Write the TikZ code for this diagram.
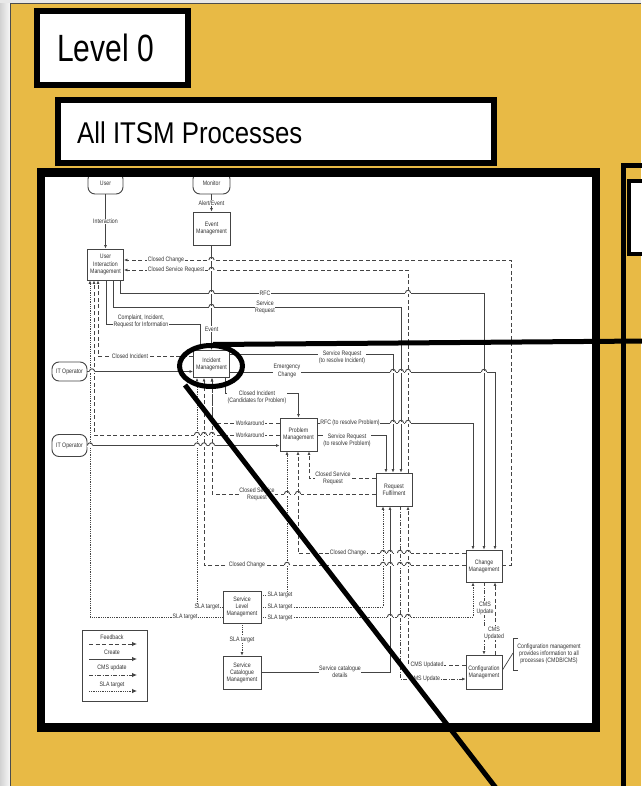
\documentclass[tikz,border=0pt]{standalone}
\usepackage{fontspec}
\setmainfont{Liberation Sans}
\newfontfamily\dg[FakeStretch=0.82]{Liberation Sans}
\usetikzlibrary{arrows.meta}
\definecolor{bgor}{RGB}{232,186,69}
\definecolor{ln}{RGB}{68,68,68}
\definecolor{tx}{RGB}{50,50,50}
\newcommand\myhop[3][cr]{\fill[white] (#2-2.6,#3-1) rectangle (#2+2.6,#3+1);
  \draw[#1,solid] (#2-2.6,#3) .. controls (#2-2.6,#3-3.6) and (#2+2.6,#3-3.6) .. (#2+2.6,#3);}
\begin{document}
\begin{tikzpicture}[x=1pt,y=-1pt,
  dfont/.style={font=\dg\fontsize{6.4}{7.1}\selectfont,text=tx},
  proc/.style={draw=ln,line width=0.9pt,fill=white,inner sep=0pt,align=center,dfont},
  term/.style={proc,rounded corners=7pt},
  lbl/.style={fill=white,inner sep=0.6pt,align=center,dfont},
  cr/.style={draw=ln,line width=0.9pt},
  fb/.style={cr,dash pattern=on 4pt off 2.5pt},
  cms/.style={cr,dash pattern=on 4pt off 1.5pt on 1pt off 1.5pt},
  sla/.style={cr,line width=0.8pt,dash pattern=on 0.8pt off 1pt},
  arr/.style={-{Latex[length=3.5pt,width=3pt]}},
  thick frame/.style={draw=black,line width=6pt}
]
\useasboundingbox (0,0) rectangle (641,786);
% background
\shade[left color=gray!35,right color=gray!6] (0,0) rectangle (10,786);
\fill[gray!18] (0,0) rectangle (641,3);
\fill[bgor] (10,3) rectangle (641,786);
\draw[black!70,line width=0.8pt] (10.4,786) -- (10.4,3.4) -- (641,3.4);

% Level 0
\draw[thick frame,fill=white] (37,11) rectangle (188,85);
\node[anchor=base west,inner sep=0pt] (lvl) at (57,62) {\scalebox{0.79}[1]{\fontsize{38}{40}\selectfont Level 0}};
% All ITSM
\draw[thick frame,fill=white] (58,100) rectangle (494,163);
\node[anchor=base west,inner sep=0pt] (all) at (77,144) {\scalebox{0.86}[1]{\fontsize{30}{32}\selectfont All ITSM Processes}};

% right panel
\draw[black,line width=5pt] (623,790) -- (623,165.5) -- (645,165.5);
\draw[black,line width=4pt,fill=white] (629,181) rectangle (650,254);

% big frame
\fill[white] (41,172.5) rectangle (596,727.5);

% processes
\node[term,minimum width=35pt,minimum height=22pt] (user) at (105.5,183) {User};
\node[term,minimum width=37pt,minimum height=22pt] (mon) at (211.5,183) {Monitor};
\node[proc,minimum width=37pt,minimum height=33pt] (evt) at (211.5,228.5) {Event\\Management};
\node[proc,minimum width=36pt,minimum height=31pt] (uim) at (105.5,264.5) {User\\Interaction\\Management};
\node[proc,minimum width=36pt,minimum height=27pt] (im) at (211.5,364) {Incident\\Management};
\node[term,minimum width=35pt,minimum height=19pt] (op1) at (69.5,371.5) {IT Operator};
\node[term,minimum width=35pt,minimum height=22pt] (op2) at (69.5,445.5) {IT Operator};
\node[proc,minimum width=37pt,minimum height=33pt] (pm) at (298.5,434.5) {Problem\\Management};
\node[proc,minimum width=36pt,minimum height=33pt] (rf) at (394,489.5) {Request\\Fulfilment};
\node[proc,minimum width=36pt,minimum height=32pt] (chg) at (484,566) {Change\\Management};
\node[proc,minimum width=38pt,minimum height=32pt] (slm) at (242,607) {Service\\Level\\Management};
\node[proc,minimum width=38pt,minimum height=33pt] (scm) at (242,672.5) {Service\\Catalogue\\Management};
\node[proc,minimum width=36pt,minimum height=34pt] (cfg) at (484,672) {Configuration\\Management};

% connectors
\draw[cr,arr] (user.south) -- (uim.north) node[lbl,midway] {Interaction};
\draw[cr,arr] (mon.south) -- (evt.north) node[lbl,midway] {Alert/Event};
\draw[cr,arr] (evt.south) -- (im.north) node[lbl,pos=0.8] {Event};
\draw[fb,arr] (chg.east |- 0,565) -| (511,260) -- (uim.east |- 0,260);
\draw[fb,arr] (rf.north -| 408,0) |- (uim.east |- 0,270);
\draw[cr,arr] (uim.south -| 120,0) |- (chg.north |- 0,293) -- (chg.north);
\draw[cr,arr] (uim.south -| 113,0) |- (401,307) -- (rf.north -| 401,0);
\draw[cr,arr] (uim.south -| 106,0) |- (200,324) -- (im.north -| 200,0);
\draw[fb,arr] (im.west |- 0,356) -| (uim.south -| 98,0);
\draw[cr,arr] (op1.east) -- (im.west |- op1.east);
\draw[cr,arr] (op2.east) -- (pm.west |- op2.east);
\draw[cr,arr] (im.east |- 0,372) -| (chg.north -| 495,0);
\draw[cr,arr] (im.east |- 0,354) -| (rf.north -| 393,0);
\draw[cr,arr] (im.south -| 225,0) |- (pm.north |- 0,393) -- (pm.north);
\draw[fb,arr] (pm.west |- 0,423) -| (im.south -| 212,0);
\draw[fb,arr] (pm.west |- 0,435) -| (uim.south -| 94,0);
\draw[cr,arr] (pm.east |- 0,423) -| (chg.north -| 473,0);
\draw[cr,arr] (pm.east |- 0,435) -| (rf.north -| 386,0);
\draw[fb,arr] (rf.west |- 0,478) -| (pm.south -| 309,0);
\draw[fb,arr] (rf.west |- 0,494) -| (im.south -| 212,0);
\draw[fb,arr] (chg.west |- 0,553) -| (pm.south -| 298,0);
\draw[fb,arr] (chg.west |- 0,565) -| (im.south -| 204,0);
\draw[sla,arr] (slm.west |- 0,617) -| (uim.south -| 90,0);
\draw[sla,arr] (slm.west |- 0,607) -| (im.south -| 197,0);
\draw[sla,arr] (slm.east |- 0,595) -| (pm.south -| 287,0);
\draw[sla,arr] (slm.east |- 0,607) -| (rf.south -| 383,0);
\draw[sla,arr] (slm.east |- 0,617) -| (chg.south -| 473,0);
\draw[sla,arr] (slm.south) -- (scm.north) node[lbl,midway] {SLA target};
\draw[cr,arr] (scm.east |- 0,672) -| (rf.south -| 390,0);
\draw[cms,arr] (rf.south -| 400,0) |- (cfg.west |- 0,679);
\draw[fb,arr] (cfg.west |- 0,665) -| (rf.south -| 408,0);
\draw[cms,arr] (chg.south) -- (cfg.north);
\draw[fb,arr] (cfg.north -| 495,0) -- (chg.south -| 495,0);

% hops
\myhop{211.5}{260}\myhop{211.5}{270}\myhop{211.5}{293}\myhop{408}{293}\myhop{211.5}{307}
\myhop{92}{371.5}
\myhop{393}{372}\myhop{401}{372}\myhop{408}{372}\myhop{484}{372}
\myhop{197}{435}\myhop{204}{435}\myhop{212}{435}
\myhop{90}{445.5}\myhop{197}{445.5}\myhop{204}{445.5}\myhop{212}{445.5}
\myhop{393}{423}\myhop{401}{423}\myhop{408}{423}
\myhop{287}{494}\myhop{298}{494}
\myhop{383}{553}\myhop{390}{553}\myhop{400}{553}\myhop{408}{553}
\myhop{287}{565}\myhop{383}{565}\myhop{390}{565}\myhop{400}{565}\myhop{408}{565}
\myhop{390}{617}\myhop{400}{617}\myhop{408}{617}

% labels
\node[lbl] (l1) at (166,260) {Closed Change};
\node[lbl] (l2) at (176,270) {Closed Service Request};
\node[lbl] (l3) at (265,293) {RFC};
\node[lbl] (l4) at (265,307) {Service\\Request};
\node[lbl] (l5) at (141,321) {Complaint, Incident,\\Request for Information};
\node[lbl] (l6) at (130,356) {Closed Incident};
\node[lbl] (l7) at (287,371) {Emergency\\Change};
\node[lbl] (l8) at (342,357) {Service Request\\(to resolve Incident)};
\node[lbl] (l9) at (257,397) {Closed Incident\\(Candidates for Problem)};
\node[lbl] (l10) at (250,423) {Workaround};
\node[lbl] (l11) at (250,435) {Workaround};
\node[lbl] (l12) at (350,423) {RFC (to resolve Problem)};
\node[lbl] (l13) at (347,440) {Service Request\\(to resolve Problem)};
\node[lbl] (l14) at (333,478) {Closed Service\\Request};
\node[lbl] (l15) at (257,494) {Closed Service\\Request};
\node[lbl] (l16) at (348,553) {Closed Change};
\node[lbl] (l17) at (247,565) {Closed Change};
\node[lbl] (l18) at (185,617) {SLA target};
\node[lbl] (l19) at (207,607) {SLA target};
\node[lbl] (l20) at (280,595) {SLA target};
\node[lbl] (l21) at (280,607) {SLA target};
\node[lbl] (l22) at (280,618) {SLA target};
\node[lbl] (l23) at (340,672) {Service catalogue\\details};
\node[lbl] (l24) at (425,679) {CMS Update};
\node[lbl] (l25) at (427,665) {CMS Updated};
\node[lbl] (l26) at (485,608) {CMS\\Update};
\node[lbl] (l27) at (494,633) {CMS\\Updated};

% note
\node[dfont,align=center,inner sep=0pt] (note) at (549,654) {Configuration management\\provides information to all\\processes (CMDB/CMS)};
\draw[ln,line width=0.7pt] (518,638) -- (513,638) -- (513,670) -- (518,670);
\draw[ln,line width=0.7pt] (cfg.east |- 0,670) -- (513,653);

% legend
\node[draw=ln,line width=0.8pt,fill=white,minimum width=65pt,minimum height=71pt,anchor=north west,inner sep=0pt] (leg) at (82,630) {};
\node[dfont,inner sep=0pt] (lg1) at (112,637) {Feedback};
\node[dfont,inner sep=0pt] (lg2) at (112,652) {Create};
\node[dfont,inner sep=0pt] (lg3) at (112,668) {CMS update};
\node[dfont,inner sep=0pt] (lg4) at (112,685) {SLA target};
\draw[fb,-{Latex[length=5pt,width=4.5pt]}] (89,644) -- (137,644);
\draw[cr,-{Latex[length=5pt,width=4.5pt]}] (89,659) -- (137,659);
\draw[cms,-{Latex[length=5pt,width=4.5pt]}] (89,675) -- (137,675);
\draw[sla,-{Latex[length=5pt,width=4.5pt]}] (89,691) -- (137,691);

% big frame border
\draw[black,line width=8.5pt] (41,172.5) rectangle (596,727.5);

% annotation
\draw[black,line width=5pt] (211,366) ellipse [x radius=31.5,y radius=20.5];
\draw[black,line width=5pt] (213,344.5) -- (645,341);
\draw[black,line width=5pt] (185,385) -- (496,788);
\end{tikzpicture}
\end{document}
